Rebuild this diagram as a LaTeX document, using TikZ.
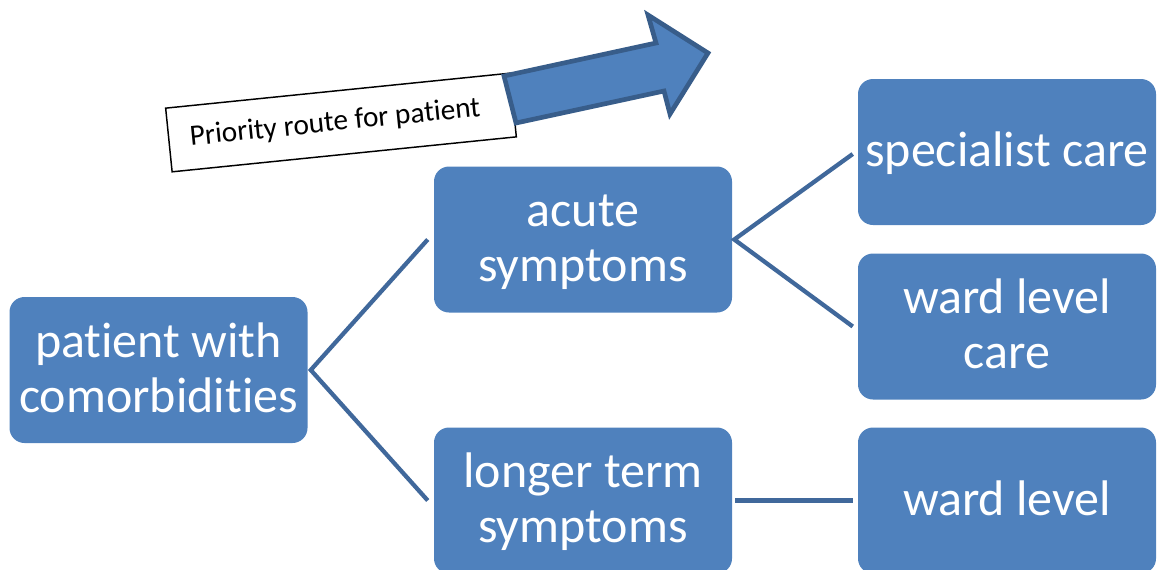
\documentclass[tikz,border=0pt]{standalone}
\usepackage{fontspec}
\setmainfont{Carlito}[Ligatures={NoCommon,NoContextual}]
\usetikzlibrary{calc}
\definecolor{boxblue}{HTML}{4F81BD}
\definecolor{linkblue}{RGB}{64,104,155}
\definecolor{arrowline}{HTML}{385D8A}
\newcommand\lnst{\rule[-8.25pt]{0pt}{38.25pt}}
\begin{document}
\begin{tikzpicture}[x=0.75pt,y=-0.75pt,
  box/.style={rectangle, rounded corners=11.25pt, fill=boxblue, text=white,
    minimum width=223.5pt, minimum height=109.5pt, inner sep=0pt, align=center,
    font=\fontsize{37.5pt}{41.25pt}\selectfont},
  link/.style={draw=linkblue, line width=3.2pt, line join=miter},
  routebox/.style={draw=black, line width=1.1pt, fill=white, rotate=5.8,
    minimum height=48pt, minimum width=259.5pt,
    inner sep=0pt, font=\fontsize{22pt}{26pt}\selectfont},
  bigarrow/.style={draw=arrowline, fill=boxblue, line width=3.5pt, line join=miter}
  ]
\useasboundingbox (0,0) rectangle (1160,569);
\clip (0,0) rectangle (1160,569);

% boxes
\node[box] (patient) at (158.5,370) {\lnst patient with\\\lnst comorbidities};
\node[box] (acute)   at (583,239.5) {\lnst acute\\\lnst symptoms};
\node[box] (longer)  at (583,500.5) {\lnst longer term\\\lnst symptoms};
\node[box] (spec)    at (1007,152)  {\lnst specialist care};
\node[box] (wardc)   at (1007,326.5) {\lnst ward level\\\lnst care};
\node[box] (wardl)   at (1007,500.5) {\lnst ward level};

% connectors
\draw[link] ($(acute.west)+(-6,0)$) -- ($(patient.east)+(3,0)$) -- ($(longer.west)+(-6,0)$);
\draw[link] ($(spec.west)+(-5,2)$) -- ($(acute.east)+(2,0)$) -- ($(wardc.west)+(-5,0)$);
\draw[link] ($(longer.east)+(3,0)$) -- ($(wardl.west)+(-5,0)$);

% priority label and arrow
\node[routebox] (route) at (341,122.5) {Priority route for patient\hspace*{9pt}};
\draw[bigarrow] (504,76) -- (656,43) -- (648,15) -- (708,53) -- (670,114) -- (664,91) -- (516,123) -- cycle;
\end{tikzpicture}
\end{document}
